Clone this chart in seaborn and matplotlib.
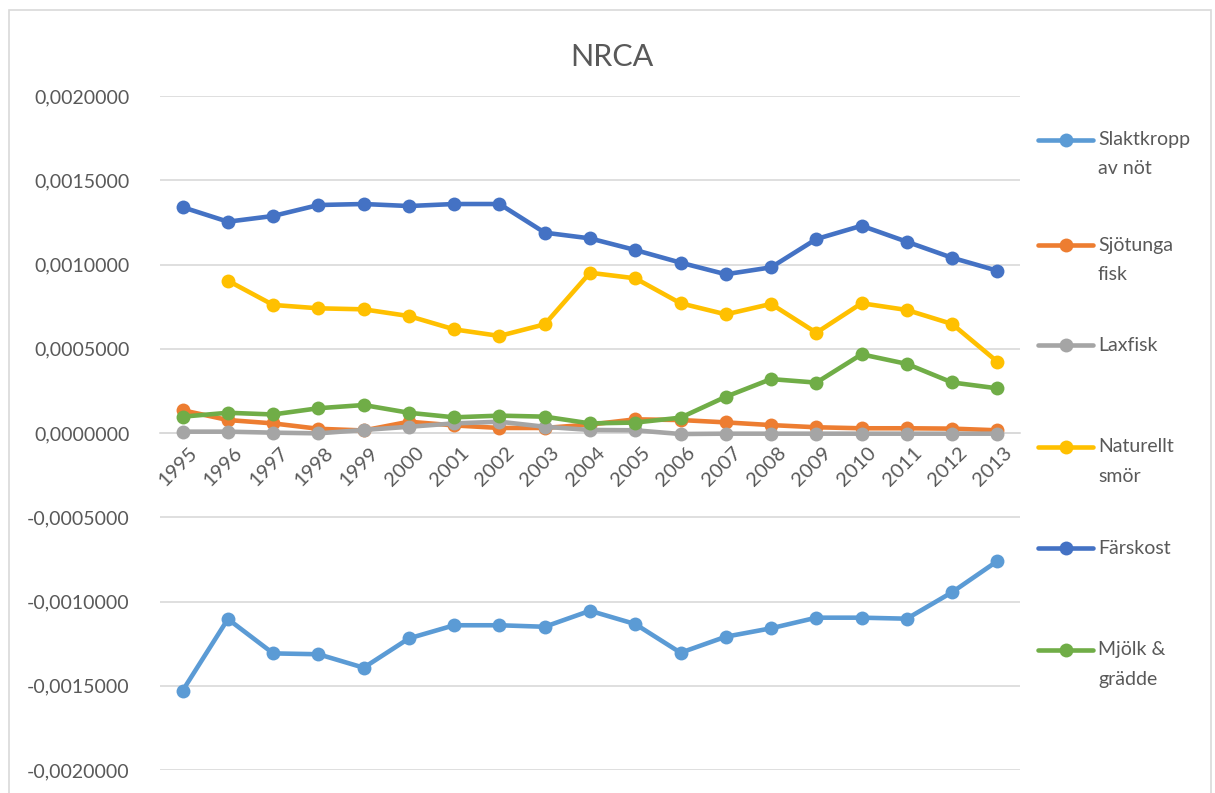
import numpy as np
import pandas as pd
import matplotlib
matplotlib.use("Agg")
import matplotlib.pyplot as plt
import seaborn as sns
from matplotlib.lines import Line2D
from matplotlib.patches import Rectangle
from matplotlib.ticker import FuncFormatter, FixedLocator
from matplotlib.transforms import ScaledTranslation

years = list(range(1995, 2014))

slaktkropp = [-0.001529, -0.001104, -0.001308, -0.001313, -0.001393, -0.001219, -0.001141,
              -0.001141, -0.001150, -0.001055, -0.001134, -0.001304, -0.001209, -0.001159,
              -0.001096, -0.001096, -0.001102, -0.000945, -0.000760]
sjotunga = [0.000135, 0.000077, 0.000057, 0.000025, 0.000015, 0.000067, 0.000045,
            0.000030, 0.000030, 0.000050, 0.000081, 0.000077, 0.000063, 0.000047,
            0.000034, 0.000028, 0.000028, 0.000026, 0.000016]
laxfisk = [0.000008, 0.000008, 0.000002, -0.000002, 0.000018, 0.000037, 0.000057,
           0.000067, 0.000037, 0.000018, 0.000016, -0.000006, -0.000004, -0.000004,
           -0.000004, -0.000004, -0.000004, -0.000004, -0.000004]
smor = [np.nan, 0.000904, 0.000760, 0.000740, 0.000734, 0.000694, 0.000615, 0.000576,
        0.000645, 0.000951, 0.000918, 0.000770, 0.000704, 0.000766, 0.000595, 0.000770,
        0.000730, 0.000647, 0.000423]
farskost = [0.001340, 0.001254, 0.001288, 0.001353, 0.001359, 0.001347, 0.001359,
            0.001359, 0.001189, 0.001155, 0.001086, 0.001011, 0.000942, 0.000983,
            0.001151, 0.001230, 0.001135, 0.001040, 0.000963]
mjolk = [0.000097, 0.000120, 0.000110, 0.000147, 0.000166, 0.000120, 0.000093, 0.000103,
         0.000097, 0.000057, 0.000062, 0.000091, 0.000215, 0.000320, 0.000299, 0.000467,
         0.000410, 0.000300, 0.000265]

series_names = ["Slaktkropp av nöt", "Sjötunga fisk", "Laxfisk", "Naturellt smör",
                "Färskost", "Mjölk & grädde"]
legend_labels = [["Slaktkropp", "av nöt"], ["Sjötunga", "fisk"], ["Laxfisk"],
                 ["Naturellt", "smör"], ["Färskost"], ["Mjölk &", "grädde"]]
colors = ["#5B9BD5", "#ED7D31", "#A5A5A5", "#FFC000", "#4472C4", "#70AD47"]
title = "NRCA"

values = [slaktkropp, sjotunga, laxfisk, smor, farskost, mjolk]
frames = []
for name, vals in zip(series_names, values):
    frames.append(pd.DataFrame({"year": years, "value": vals, "series": name}))
df = pd.concat(frames, ignore_index=True).dropna()

sns.set_style("white")
plt.rcParams["font.family"] = ["Lato", "DejaVu Sans"]

W, H = 1215, 793
fig = plt.figure(figsize=(W / 100, H / 100), dpi=100)
ax = fig.add_axes([160 / W, (H - 770) / H, (1020 - 160) / W, (770 - 96) / H])

txt_color = "#595959"
grid_color = "#D9D9D9"

for name, col in zip(series_names, colors):
    sub = df[df["series"] == name]
    sns.lineplot(data=sub, x="year", y="value", ax=ax, color=col, linewidth=3.3,
                 marker="o", markersize=10, markeredgewidth=0, estimator=None,
                 sort=False, legend=False)

for s in ["top", "right", "left"]:
    ax.spines[s].set_visible(False)
ax.spines["bottom"].set_position(("data", 0))
ax.spines["bottom"].set_color(grid_color)
ax.spines["bottom"].set_linewidth(1.2)
ax.spines["bottom"].set_zorder(0.5)

ax.set_xlim(1994.5, 2013.5)
ax.set_ylim(-0.002, 0.002)
yt = np.linspace(-0.002, 0.002, 9)
ax.yaxis.set_major_locator(FixedLocator(yt))
ax.yaxis.set_major_formatter(FuncFormatter(lambda v, p: f"{v:.7f}".replace(".", ",")))
ax.set_xticks(years)
ax.set_xticklabels([str(y) for y in years])
ax.grid(axis="y", color=grid_color, linewidth=1.2)
ax.set_axisbelow(True)
ax.tick_params(axis="x", length=0, pad=8, labelsize=14.5, labelcolor=txt_color)
ax.tick_params(axis="y", length=0, pad=22, labelsize=14, labelcolor=txt_color)
shift = ScaledTranslation(6 / 100, 0, fig.dpi_scale_trans)
for lab in ax.get_xticklabels():
    lab.set_rotation(45)
    lab.set_ha("right")
    lab.set_va("top")
    lab.set_rotation_mode("anchor")
    lab.set_transform(lab.get_transform() + shift)
ax.set_xlabel("")
ax.set_ylabel("")

fig.text(612 / W, 1 - 57 / H, title, ha="center", va="center", fontsize=22,
         color=txt_color)

# legend (drawn manually, marker aligned with first line as in reference)
first_y = [140, 245, 345, 447, 548, 650]
line_gap = 29
for col, lines, y in zip(colors, legend_labels, first_y):
    fy = 1 - y / H
    fig.add_artist(Line2D([1038 / W, 1093 / W], [fy, fy], color=col, linewidth=3.3,
                          transform=fig.transFigure))
    fig.add_artist(Line2D([1065.5 / W], [fy], color=col, marker="o", markersize=10,
                          markeredgewidth=0, transform=fig.transFigure))
    for i, t in enumerate(lines):
        fig.text(1098 / W, 1 - (y + i * line_gap) / H, t, ha="left", va="center",
                 fontsize=14, color=txt_color)

fig.add_artist(Rectangle((9 / W, -0.05), (1211 - 9) / W, 1 - 10 / H + 0.05,
                         transform=fig.transFigure, fill=False,
                         edgecolor=grid_color, linewidth=1.2))

fig.savefig("out.png", dpi=100)
